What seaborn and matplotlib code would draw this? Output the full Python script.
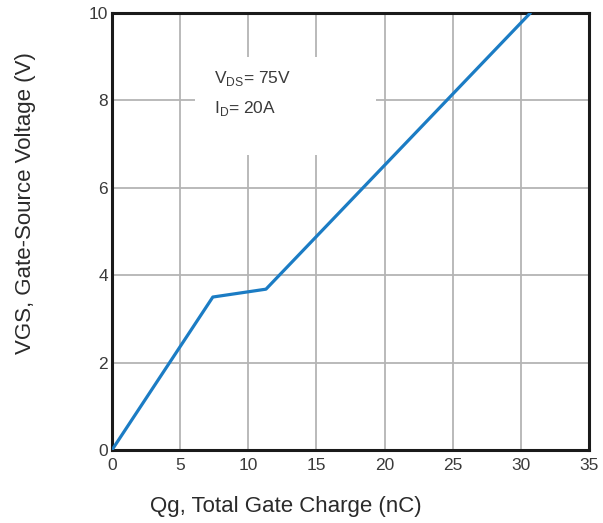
import matplotlib
matplotlib.use("Agg")
import matplotlib.pyplot as plt
import matplotlib.patches as mpatches
import seaborn as sns
import pandas as pd

# Gate charge curve: total gate charge (nC) vs gate-source voltage (V)
qg_nc = [0.0, 7.4, 11.3, 30.7]
vgs_v = [0.0, 3.5, 3.68, 10.0]

x_ticks = [0, 5, 10, 15, 20, 25, 30, 35]
y_ticks = [0, 2, 4, 6, 8, 10]

condition_lines = [r"V$_{\mathrm{DS}}$= 75V", r"I$_{\mathrm{D}}$= 20A"]

sns.set_theme(style="white")
plt.rcParams["font.family"] = ["Liberation Sans", "DejaVu Sans"]
plt.rcParams["mathtext.fontset"] = "custom"
plt.rcParams["mathtext.rm"] = "Liberation Sans"

fig = plt.figure(figsize=(6.03, 5.23), dpi=100)
ax = fig.add_axes([0.1857, 0.1396, 0.7910, 0.8356])

df = pd.DataFrame({"Qg": qg_nc, "VGS": vgs_v})
sns.lineplot(data=df, x="Qg", y="VGS", sort=False, ax=ax,
             color="#1b7cc4", linewidth=2.3, zorder=3)

ax.set_xlim(0, 35)
ax.set_ylim(0, 10)
ax.set_xticks(x_ticks)
ax.set_yticks(y_ticks)
ax.set_axisbelow(True)
ax.grid(True, color="#b4b4b4", linewidth=1.3)

# clear the grid behind the test-condition note
ax.add_patch(mpatches.Rectangle((6.1, 6.75), 13.3, 2.25, facecolor="white",
                                edgecolor="none", zorder=1))
for i, line in enumerate(condition_lines):
    ax.text(7.5, 8.5 - i * 0.68, line, fontsize=12.5, color="#3a3a3a",
            va="center", ha="left", zorder=4)

for side in ["left", "right", "top", "bottom"]:
    ax.spines[side].set_visible(True)
    ax.spines[side].set_color("#1a1a1a")
    ax.spines[side].set_linewidth(2.2)

ax.tick_params(axis="both", labelsize=12.5, colors="#3a3a3a", length=0)
ax.tick_params(axis="x", pad=6)
ax.tick_params(axis="y", pad=3)
ax.set_xlabel("")
ax.set_ylabel("")

fig.text(0.4735, 0.031, "Qg, Total Gate Charge (nC)", ha="center", va="center",
         fontsize=16, color="#2a2a2a")
fig.text(0.043, 0.611, "VGS, Gate-Source Voltage (V)", ha="center", va="center",
         rotation=90, fontsize=16, color="#2a2a2a")

fig.savefig("out.png", dpi=100)
